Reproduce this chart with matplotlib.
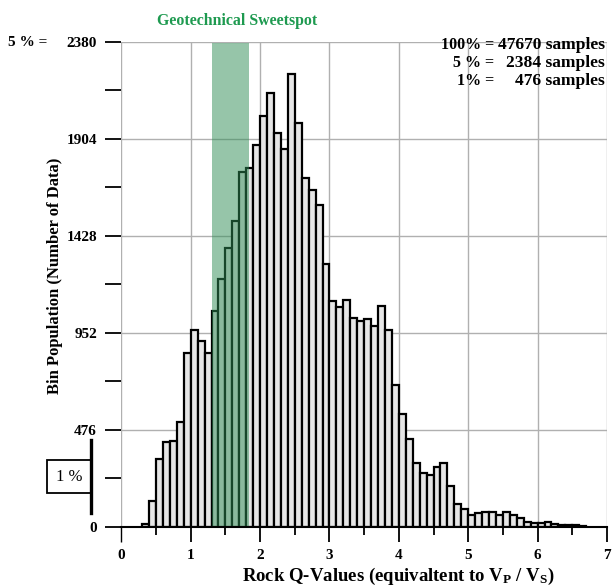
import matplotlib
matplotlib.use('Agg')
import matplotlib.pyplot as plt
from matplotlib.patches import Rectangle
from matplotlib.lines import Line2D

plt.rcParams['font.family'] = ['Liberation Serif', 'DejaVu Serif']
plt.rcParams['font.weight'] = 'bold'
plt.rcParams['mathtext.fontset'] = 'custom'
plt.rcParams['mathtext.rm'] = 'Liberation Serif:bold'
plt.rcParams['mathtext.bf'] = 'Liberation Serif:bold'
plt.rcParams['mathtext.it'] = 'Liberation Serif:bold'

# ---------------- data ----------------
bin_left = [0.3, 0.4, 0.5, 0.6, 0.7, 0.8, 0.9,
            1.0, 1.1, 1.2, 1.3, 1.4, 1.5, 1.6, 1.7, 1.8,
            1.9, 2.0, 2.1, 2.2, 2.3, 2.4, 2.5, 2.6, 2.7, 2.8,
            2.9, 3.0, 3.1, 3.2, 3.3, 3.4, 3.5, 3.6, 3.7, 3.8,
            3.9, 4.0, 4.1, 4.2, 4.3, 4.4, 4.5, 4.6, 4.7, 4.8,
            4.9, 5.0, 5.1, 5.2, 5.3, 5.4, 5.5, 5.6, 5.7, 5.8,
            5.9, 6.0, 6.1, 6.2, 6.3, 6.4, 6.5, 6.6]
counts = [13, 126, 331, 414, 422, 515, 852,
          965, 913, 854, 1060, 1217, 1369, 1500, 1740, 1762,
          1874, 2015, 2127, 1933, 1855, 2220, 1982, 1713, 1652, 1579,
          1289, 1108, 1080, 1111, 1024, 1009, 1021, 986, 1084, 964,
          697, 554, 430, 313, 265, 255, 291, 314, 200, 110,
          85, 59, 67, 72, 72, 59, 72, 59, 43, 25,
          18, 17, 22, 12, 10, 10, 8, 5]
bin_width = 0.1
sweetspot = (1.31, 1.84)
x_ticks = [0, 1, 2, 3, 4, 5, 6, 7]
x_minor = [0.5, 1.5, 2.5, 3.5, 4.5, 5.5, 6.5]
y_ticks = [0, 476, 952, 1428, 1904, 2380]
y_minor = [238, 714, 1190, 1666, 2142]
total_samples = 47670
five_pct = 2384
one_pct = 476

# ---------------- figure ----------------
W, H = 612, 586
fig = plt.figure(figsize=(W / 100, H / 100), dpi=100)
L, R, T, B = 121.3, 607.0, 41.7, 526.7
ax = fig.add_axes([L / W, 1 - B / H, (R - L) / W, (B - T) / H])

def fx(x):
    return x / W

def fy(y):
    return 1 - y / H

ax.bar(bin_left, counts, width=bin_width, align='edge', facecolor='#e6e6e6',
       edgecolor='black', linewidth=1.6, zorder=2)
ax.axvspan(sweetspot[0], sweetspot[1], ymin=0, ymax=0.997, color='#2F8D55',
           alpha=0.5, lw=0, zorder=3)

ax.set_xlim(0, 7)
ax.set_ylim(0, 2380)
ax.set_xticks(x_ticks)
ax.set_xticks(x_minor, minor=True)
ax.set_yticks(y_ticks)
ax.set_yticks(y_minor, minor=True)
ax.set_xticklabels([str(v) for v in x_ticks], fontsize=11, fontweight='bold')
ax.set_yticklabels([str(v) for v in y_ticks], fontsize=11, fontweight='bold')

ax.grid(True, which='major', color='#b0b0b0', linewidth=1.0, zorder=0)
ax.set_axisbelow(True)

for s in ['left', 'top', 'right']:
    ax.spines[s].set_visible(False)
ax.spines['bottom'].set_color('black')
ax.spines['bottom'].set_linewidth(1.5)
ax.spines['bottom'].set_zorder(4)

ax.tick_params(axis='x', which='major', length=11, width=1.3, direction='out', pad=5, colors='black')
ax.tick_params(axis='x', which='minor', length=5.5, width=1.3, direction='out')
ax.tick_params(axis='y', which='both', length=11.5, width=1.3, direction='out', pad=6)
ax.xaxis.get_major_ticks()[0].tick1line.set_color('#b0b0b0')
ax.xaxis.get_major_ticks()[0].tick1line.set_markeredgewidth(1.0)

ax.set_xlabel(r'Rock Q-Values (equivaltent to V$_{\mathrm{P}}$ / V$_{\mathrm{S}}$)',
              fontsize=13.5, fontweight='bold')
ax.xaxis.set_label_coords((398 - L) / (R - L), -(576 - B) / (B - T))
ax.xaxis.label.set_va('center')
ax.set_ylabel('Bin Population (Number of Data)', fontsize=12, fontweight='bold')
ax.yaxis.set_label_coords((55 - L) / (R - L), (B - 276) / (B - T))
ax.yaxis.label.set_va('center')

# top annotations
fig.text(fx(237), fy(21), 'Geotechnical Sweetspot', color='#1e9a50', fontsize=11.4,
         fontweight='bold', ha='center', va='center')
fig.text(fx(8), fy(42), '5 % =', fontsize=11, fontweight='bold', ha='left', va='center')

rows = [('100% =', f'{total_samples} samples', 45),
        ('5 % =', f'{five_pct} samples', 63),
        ('1% =', f'{one_pct} samples', 81)]
for lab, val, yy in rows:
    fig.text(fx(494), fy(yy), lab, fontsize=11.5, fontweight='bold', ha='right', va='center')
    fig.text(fx(605), fy(yy), val, fontsize=12.5, fontweight='bold', ha='right', va='center')

# 1 % scale box
fig.patches.append(Rectangle((fx(47.3), fy(493.3)), fx(90.7 - 47.3), (493.3 - 460) / H,
                             transform=fig.transFigure, facecolor='white',
                             edgecolor='black', linewidth=1.3))
fig.lines.append(Line2D([fx(91), fx(91)], [fy(440), fy(513.3)], transform=fig.transFigure,
                        color='black', linewidth=2.4))
fig.text(fx(69), fy(477), '1 %', fontsize=12, fontweight='normal', ha='center', va='center')

fig.savefig('out.png', dpi=100)
